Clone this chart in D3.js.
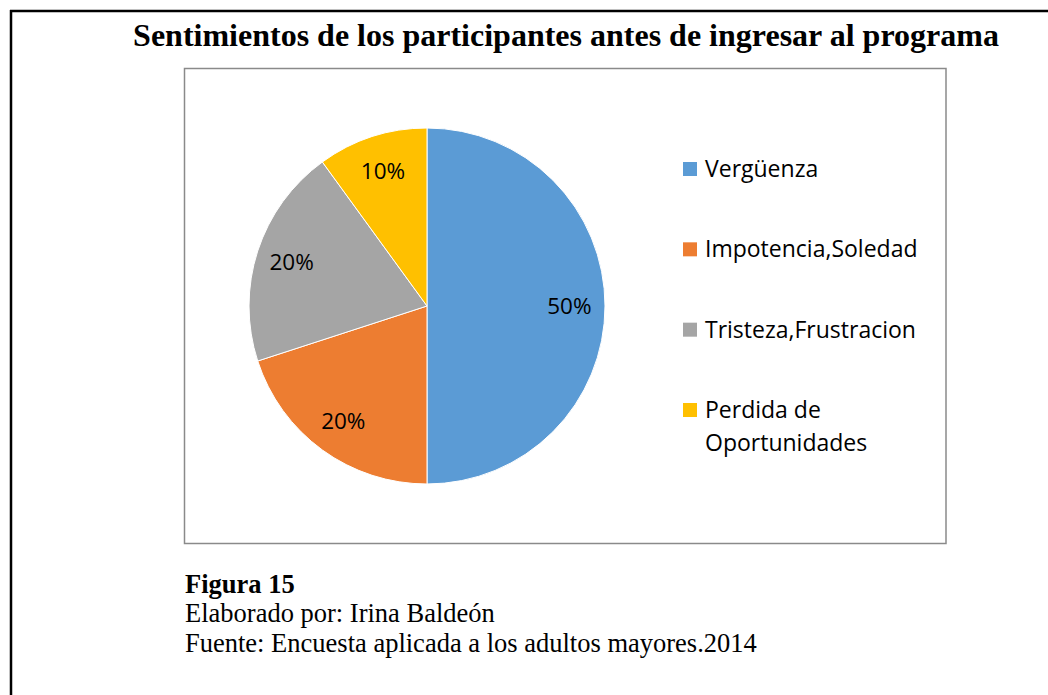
<!DOCTYPE html>
<html>
<head>
<meta charset="utf-8">
<script src="https://cdn.jsdelivr.net/npm/d3@7"></script>
<style>
  body { margin: 0; background: #fff; }
  svg { display: block; }
</style>
</head>
<body>
<svg id="chart" width="1048" height="695"></svg>
<script>
const categories = ["Vergüenza", "Impotencia,Soledad", "Tristeza,Frustracion", "Perdida de Oportunidades"];
const values = [50, 20, 20, 10];
const colors = ["#5B9BD5", "#ED7D31", "#A5A5A5", "#FFC000"];
const legendLines = [["Vergüenza"], ["Impotencia,Soledad"], ["Tristeza,Frustracion"], ["Perdida de", "Oportunidades"]];
const title = "Sentimientos de los participantes antes de ingresar al programa";
const footer = ["Elaborado por: Irina Baldeón", "Fuente: Encuesta aplicada a los adultos mayores.2014"];

const svg = d3.select("#chart");
const serif = "'Liberation Serif', 'Times New Roman', serif";
const sans = "'Open Sans', sans-serif";

// page border (top and left only)
svg.append("line").attr("x1", 10).attr("y1", 11).attr("x2", 1048).attr("y2", 11)
  .attr("stroke", "#000").attr("stroke-width", 2.5);
svg.append("line").attr("x1", 11).attr("y1", 10).attr("x2", 11).attr("y2", 695)
  .attr("stroke", "#000").attr("stroke-width", 2.5);

svg.append("text")
  .attr("x", 566).attr("y", 46)
  .attr("text-anchor", "middle")
  .attr("font-family", serif).attr("font-weight", "bold").attr("font-size", 32)
  .text(title);

// chart area frame
svg.append("rect")
  .attr("x", 184.5).attr("y", 68.5).attr("width", 761.5).attr("height", 475)
  .attr("fill", "none").attr("stroke", "#8a8a8a").attr("stroke-width", 1.5);

const cx = 427, cy = 306, r = 178;
const pie = d3.pie().sort(null).value(d => d)(values);
const arc = d3.arc().innerRadius(0).outerRadius(r);
const labelArc = d3.arc().innerRadius(r * 0.8).outerRadius(r * 0.8);

const g = svg.append("g").attr("transform", `translate(${cx}, ${cy})`);

g.selectAll("path")
  .data(pie)
  .enter()
  .append("path")
  .attr("d", arc)
  .attr("fill", (d, i) => colors[i])
  .attr("stroke", "#fff")
  .attr("stroke-width", 1);

const total = d3.sum(values);
g.selectAll(".lbl")
  .data(pie)
  .enter()
  .append("text")
  .attr("class", "lbl")
  .attr("transform", d => `translate(${labelArc.centroid(d)})`)
  .attr("text-anchor", "middle")
  .attr("dy", "0.36em")
  .attr("font-family", sans).attr("font-size", 22.5).attr("fill", "#000")
  .text(d => Math.round(d.value / total * 100) + "%");

// legend
const legendY = d3.scalePoint().domain(categories).range([177, 418]);
const legend = svg.append("g");
categories.forEach((c, i) => {
  const y = legendY(c);
  legend.append("rect")
    .attr("x", 683).attr("y", y - 15).attr("width", 14).attr("height", 14)
    .attr("fill", colors[i]);
  const t = legend.append("text")
    .attr("x", 705).attr("y", y)
    .attr("font-family", sans).attr("font-size", 23).attr("fill", "#000");
  legendLines[i].forEach((line, j) => {
    t.append("tspan").attr("x", 705).attr("dy", j === 0 ? 0 : 33).text(line);
  });
});

// footer
svg.append("text")
  .attr("x", 185).attr("y", 593)
  .attr("font-family", serif).attr("font-weight", "bold").attr("font-size", 26.5)
  .text("Figura 15");
footer.forEach((f, i) => {
  svg.append("text")
    .attr("x", 185).attr("y", 622 + i * 30)
    .attr("font-family", serif).attr("font-size", 26.5)
    .text(f);
});
</script>
</body>
</html>
